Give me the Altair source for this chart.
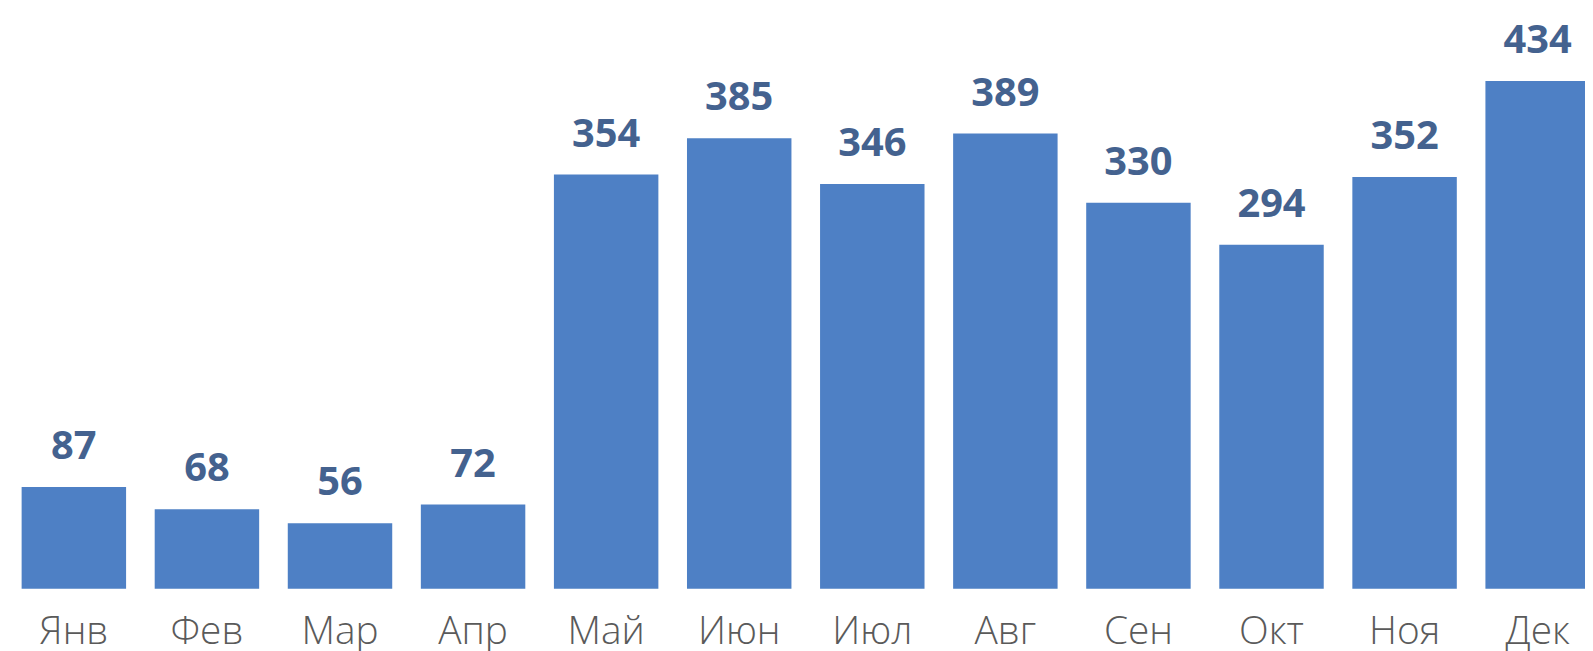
import altair as alt
import pandas as pd

months = ["Янв", "Фев", "Мар", "Апр", "Май", "Июн", "Июл", "Авг", "Сен", "Окт", "Ноя", "Дек"]
values = [87, 68, 56, 72, 354, 385, 346, 389, 330, 294, 352, 434]

df = pd.DataFrame({"month": months, "value": values})

x = alt.X(
    "month:N",
    sort=months,
    title=None,
    scale=alt.Scale(range=[0, 1603.6], paddingInner=0.215, paddingOuter=0.1024),
    axis=alt.Axis(
        labelAngle=0,
        ticks=False,
        tickSize=0,
        domain=False,
        labelPadding=55,
        labelBaseline="alphabetic",
        labelFont="Open Sans",
        labelFontWeight=300,
        labelFontSize=39,
        labelColor="#5a5a5a",
        labelOverlap=False,
        grid=False,
    ),
)
y = alt.Y("value:Q", title=None, scale=alt.Scale(domain=[0, 495], nice=False, zero=True), axis=None)

bars = alt.Chart(df).mark_bar(color="#4E80C5").encode(x=x, y=y)
labels = alt.Chart(df).mark_text(
    font="Open Sans",
    fontWeight="bold",
    fontSize=40,
    color="#44628F",
    baseline="alphabetic",
    align="center",
    dy=-28,
).encode(x=x, y=y, text="value:Q")

chart = (
    alt.layer(bars, labels)
    .properties(
        width=1585,
        height=582,
        autosize=alt.AutoSizeParams(type="none"),
        padding={"left": 0, "top": 0, "right": 0, "bottom": 61},
        background="#ffffff",
    )
    .configure_view(stroke=None)
)

chart.save("out.html", embed_options={"renderer": "svg", "actions": False})
